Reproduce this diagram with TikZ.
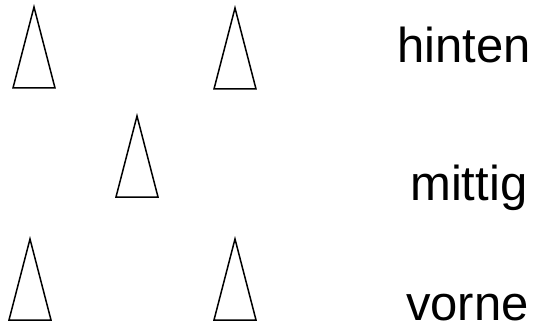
\documentclass[tikz,border=0pt]{standalone}
\usepackage{fontspec}
\setmainfont{Liberation Sans}
\usepackage{tikz}
\usetikzlibrary{positioning}
\tikzset{
  coneline/.style={draw=black,line width=1.5pt,line join=miter},
  cone/.pic={\draw[coneline] (0,0) -- (-21,81) -- (21,81) -- cycle;},
  rowlbl/.style={anchor=base west,inner sep=0pt,font=\fontsize{49}{50}\selectfont,text=black}
}
\begin{document}
\begin{tikzpicture}[x=1pt,y=-1pt]
  \useasboundingbox (0,0) rectangle (540,323);
  % triangles: apex positions
  \foreach \cx/\cy in {34/7,235/8,137/116,30/239,235/239}{
    \pic at (\cx,\cy) {cone};
  }
  % row labels
  \node[rowlbl] (hinten) at (397,63) {hinten};
  \node[rowlbl] (mittig) at (410,200) {mittig};
  \node[rowlbl] (vorne) at (406,320) {vorne};
\end{tikzpicture}
\end{document}
